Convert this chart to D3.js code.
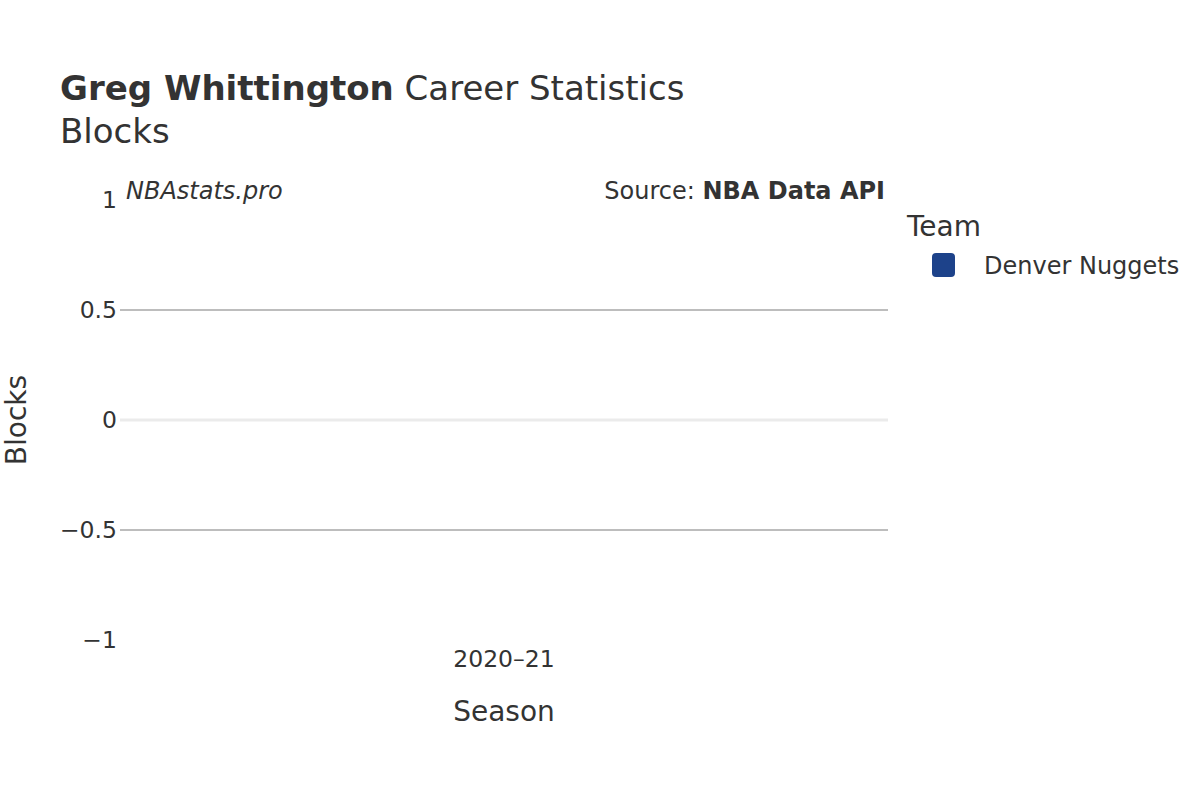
<!DOCTYPE html>
<html>
<head>
<meta charset="utf-8">
<script src="https://cdn.jsdelivr.net/npm/d3@7"></script>
<style>
  body { margin: 0; background: #fff; }
  svg, svg text { font-family: "DejaVu Sans", sans-serif; }
  .tick text { fill: #333; font-size: 23.5px; }
</style>
</head>
<body>
<div id="chart"></div>
<script>
const seasons = ['2020–21'];
const teams = ['Denver Nuggets'];
const teamColors = ['#1d428a'];
const blocks = [0];
const yTicks = [-1, -0.5, 0, 0.5, 1];

const width = 1200, height = 800;
const margin = { top: 200, right: 312, bottom: 160, left: 120 };

const svg = d3.select('#chart').append('svg')
  .attr('width', width)
  .attr('height', height);

const xScale = d3.scaleBand()
  .domain(seasons)
  .range([margin.left, width - margin.right])
  .padding(0.2);

const yScale = d3.scaleLinear()
  .domain([-1, 1])
  .range([height - margin.bottom, margin.top]);

// gridlines (none at the edges)
svg.append('g')
  .selectAll('line')
  .data(yTicks.filter((d) => d !== 0 && Math.abs(d) !== 1))
  .join('line')
  .attr('x1', margin.left)
  .attr('x2', width - margin.right)
  .attr('y1', (d) => yScale(d))
  .attr('y2', (d) => yScale(d))
  .attr('stroke', '#bdbdbd')
  .attr('stroke-width', 2);

// zero line
svg.append('line')
  .attr('x1', margin.left)
  .attr('x2', width - margin.right)
  .attr('y1', yScale(0))
  .attr('y2', yScale(0))
  .attr('stroke', '#ebebeb')
  .attr('stroke-width', 3);

// bars (value 0, so only the outline shows)
svg.append('g')
  .selectAll('rect')
  .data(seasons)
  .join('rect')
  .attr('x', (d) => xScale(d))
  .attr('width', xScale.bandwidth())
  .attr('y', (d, i) => Math.min(yScale(blocks[i]), yScale(0)))
  .attr('height', (d, i) => Math.abs(yScale(blocks[i]) - yScale(0)))
  .attr('fill', teamColors[0])
  .attr('stroke', '#fafafa')
  .attr('stroke-width', 1);

// y axis
const yAxis = svg.append('g')
  .attr('transform', `translate(${margin.left},0)`)
  .call(d3.axisLeft(yScale).tickValues(yTicks).tickSize(0).tickPadding(3)
    .tickFormat((d) => (d < 0 ? '\u2212' : '') + Math.abs(d)));
yAxis.select('.domain').remove();
yAxis.attr('font-family', null);

// x axis
const xAxis = svg.append('g')
  .attr('transform', `translate(0,${height - margin.bottom})`)
  .call(d3.axisBottom(xScale).tickSize(0).tickPadding(10));
xAxis.select('.domain').remove();
xAxis.attr('font-family', null);

// titles
const title = svg.append('text')
  .attr('x', 60)
  .attr('y', 100)
  .attr('fill', '#333')
  .attr('font-size', 34);
title.append('tspan').attr('font-weight', 'bold').text('Greg Whittington');
title.append('tspan').text(' Career Statistics');

svg.append('text')
  .attr('x', 60)
  .attr('y', 143)
  .attr('fill', '#333')
  .attr('font-size', 34)
  .text('Blocks');

svg.append('text')
  .attr('x', 126)
  .attr('y', 199)
  .attr('fill', '#333')
  .attr('font-size', 24)
  .attr('font-style', 'italic')
  .text('NBAstats.pro');

const source = svg.append('text')
  .attr('x', 885)
  .attr('y', 199)
  .attr('text-anchor', 'end')
  .attr('fill', '#333')
  .attr('font-size', 24);
source.append('tspan').text('Source: ');
source.append('tspan').attr('font-weight', 'bold').text('NBA Data API');

// axis titles
svg.append('text')
  .attr('x', (margin.left + width - margin.right) / 2)
  .attr('y', 721)
  .attr('text-anchor', 'middle')
  .attr('fill', '#333')
  .attr('font-size', 28)
  .text('Season');

svg.append('text')
  .attr('transform', `translate(26,${yScale(0)}) rotate(-90)`)
  .attr('text-anchor', 'middle')
  .attr('fill', '#333')
  .attr('font-size', 28)
  .text('Blocks');

// legend
const legend = svg.append('g').attr('transform', 'translate(907,0)');
legend.append('text')
  .attr('x', 0)
  .attr('y', 236)
  .attr('fill', '#333')
  .attr('font-size', 28)
  .text('Team');

const item = legend.selectAll('g.item')
  .data(teams)
  .join('g')
  .attr('class', 'item')
  .attr('transform', (d, i) => `translate(0,${265 + i * 30})`);
item.append('rect')
  .attr('x', 25)
  .attr('y', -12)
  .attr('width', 23)
  .attr('height', 24)
  .attr('rx', 4)
  .attr('fill', (d, i) => teamColors[i]);
item.append('text')
  .attr('x', 77)
  .attr('y', 9)
  .attr('fill', '#333')
  .attr('font-size', 24)
  .text((d) => d);
</script>
</body>
</html>
